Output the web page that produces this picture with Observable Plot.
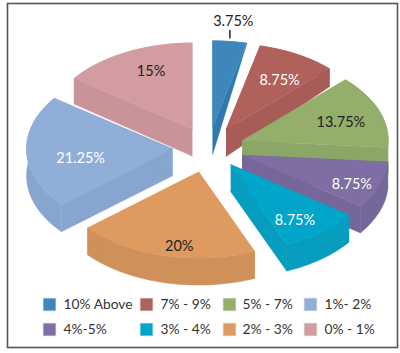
<!DOCTYPE html>
<html><head><meta charset="utf-8">
<script src="https://cdn.jsdelivr.net/npm/d3@7"></script>
<script src="https://cdn.jsdelivr.net/npm/@observablehq/plot@0.6"></script>
<style>html,body{margin:0;padding:0;background:#fff}svg{display:block}</style>
</head><body><div id="c"></div>
<script>
// ---- data
const categories = ["10% Above","7% - 9%","5% - 7%","4%-5%","3% - 4%","2% - 3%","1%- 2%","0% - 1%"];
const shares = [3.75,8.75,13.75,8.75,8.75,20,21.25,15];
const valueLabels = ["3.75%","8.75%","13.75%","8.75%","8.75%","20%","21.25%","15%"];
const legendOrder = ["10% Above","7% - 9%","5% - 7%","1%- 2%","4%-5%","3% - 4%","2% - 3%","0% - 1%"];

// ---- styles and layout
const topColors  = ["#3d87bd","#b0615c","#94ae6b","#7e6ea3","#00a5c9","#de9a5f","#8fafd8","#d29ca0"];
const wallColors = ["#3079ad","#a85c57","#8ca667","#76679b","#069dbf","#d09059","#86a5cf","#c89499"];
const textColors = ["#222","#fff","#222","#fff","#fff","#222","#fff","#222"];
const labelFx = [1.2,.75,.72,.8,.71,.57,.63,.62];
const labelFy = [1.24,.65,.67,.93,.8,.9,.63,.757];
const labelDy = [0,0,1.5,1,1.5,-1,7,0];
const W=400,H=353,cx=208,cy=147.5,rx=146,ry=86,explode=36;
const extraExplode = {5:6};
const depthAt = y => Math.max(0,Math.min(27,(y-44)*0.75));

let acc=0;
const slices = shares.map((v,i)=>{
  const a0=acc/100*2*Math.PI; acc+=v; const a1=acc/100*2*Math.PI; const mid=(a0+a1)/2;
  const e=explode+(extraExplode[i]||0);
  const ax=cx+e*Math.sin(mid), ay=cy-e*Math.cos(mid)*ry/rx;
  const at=a=>[ax+rx*Math.sin(a), ay-ry*Math.cos(a)];
  const n=Math.max(2,Math.ceil((a1-a0)/0.03));
  const arc=d3.range(n+1).map(k=>at(a0+(a1-a0)*k/n));
  return {i,a0,a1,mid,ax,ay,arc};
});
const polys=[];
const drawOrder=[7,0,1,6,5,2,3,4];
for(const k of drawOrder){
  const s=slices[k];
  const apex=[s.ax,s.ay], apexLow=[s.ax,s.ay+depthAt(s.ay)];
  const low=p=>[p[0],p[1]+depthAt(p[1])];
  const wall=[...s.arc,...s.arc.map(low).reverse()];
  const startWall=[apex,s.arc[0],low(s.arc[0]),apexLow];
  const endWall=[apex,s.arc[s.arc.length-1],low(s.arc[s.arc.length-1]),apexLow];
  [wall,startWall,endWall].forEach((pts,j)=>polys.push({id:k+"w"+j,pts,color:wallColors[k]}));
  polys.push({id:k+"t",pts:[apex,...s.arc],color:topColors[k]});
}
const pts=polys.flatMap(p=>p.pts.map(q=>({id:p.id,color:p.color,x:q[0],y:q[1]})));
const labels=slices.map((s,i)=>({
  text:valueLabels[i],color:textColors[i],
  x:s.ax+labelFx[i]*rx*Math.sin(s.mid), y:s.ay-labelFy[i]*ry*Math.cos(s.mid)+labelDy[i]
}));
const lead=slices[0];
const leader=[{
  x:lead.ax+rx*Math.sin(lead.mid), y1:lead.ay-1.03*ry*Math.cos(lead.mid), y2:lead.ay-1.13*ry*Math.cos(lead.mid)
}];
const legendX=[49,146,229,310], legendTextX=[63,160,242,324], legendY=[304,329];
const legend=legendOrder.map((name,i)=>{
  const idx=categories.indexOf(name), col=i%4, row=Math.floor(i/4);
  return {name,color:topColors[idx],x:legendX[col],tx:legendTextX[col],y:legendY[row]};
});
const font="Lato, 'Open Sans', sans-serif";
const chart=Plot.plot({
  width:W,height:H,margin:0,
  style:{background:"#fff",fontFamily:font},
  x:{domain:[0,W],range:[0,W],axis:null},
  y:{domain:[0,H],range:[0,H],axis:null},
  color:{type:"identity"},
  marks:[
    Plot.frame({insetLeft:7,insetTop:3,insetRight:3,insetBottom:6,stroke:"#555",strokeWidth:1.6}),
    Plot.line(pts,{x:"x",y:"y",z:"id",fill:"color",stroke:"color",strokeWidth:0.5}),
    Plot.ruleX(leader,{x:"x",y1:"y1",y2:"y2",stroke:"#222",strokeWidth:1.5}),
    Plot.text(labels,{x:"x",y:"y",text:"text",fill:"color",fontSize:14.5}),
    Plot.dot(legend,{x:"x",y:"y",symbol:"square",r:7.2,fill:"color",stroke:"#ddd",strokeWidth:0.6}),
    Plot.text(legend,{x:"tx",y:"y",text:"name",textAnchor:"start",fill:"#333",fontSize:13.8})
  ]
});
document.getElementById("c").append(chart);
</script></body></html>
